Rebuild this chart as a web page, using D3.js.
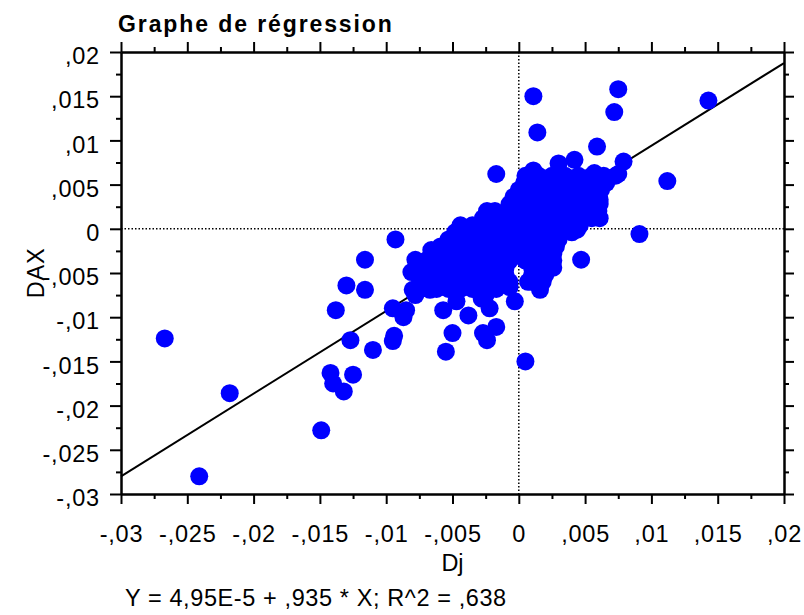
<!DOCTYPE html>
<html>
<head>
<meta charset="utf-8">
<script src="https://cdnjs.cloudflare.com/ajax/libs/d3/7.8.5/d3.min.js"></script>
<style>
  body { margin: 0; background: #fff; }
  svg { display: block; font-family: "Liberation Sans", Arial, sans-serif; }
  .axis text { font-size: 23.5px; letter-spacing: 0.8px; fill: #000; }
  .axis path, .axis line { stroke: #000; stroke-width: 2; }
</style>
</head>
<body>
<svg width="804" height="615"></svg>
<script>
// axis ticks
const majorTicks = [-0.03, -0.025, -0.02, -0.015, -0.01, -0.005, 0, 0.005, 0.01, 0.015, 0.02];
const minorTicks = [-0.0275, -0.0225, -0.0175, -0.0125, -0.0075, -0.0025, 0.0025, 0.0075, 0.0125, 0.0175];
const tickLabels = ['-,03', '-,025', '-,02', '-,015', '-,01', '-,005', '0', ',005', ',01', ',015', ',02'];

// regression Y = a + b * X
const intercept = 4.95e-5;
const slope = 0.935;

// Dj, DAX pairs: scattered points
const outlierPts = [
  [-0.0267, -0.0124], [-0.0218, -0.0186], [-0.0241, -0.0280], [-0.0149, -0.0228],
  [-0.0142, -0.0163], [-0.0140, -0.0175], [-0.0132, -0.0184], [-0.0125, -0.0165],
  [-0.0127, -0.0126], [-0.0110, -0.0137], [-0.0138, -0.0092], [-0.0130, -0.0064],
  [-0.0116, -0.0069], [-0.0116, -0.0035], [-0.0093, -0.0012], [-0.0095, -0.0090],
  [-0.0087, -0.0100], [-0.0085, -0.0092], [-0.0094, -0.0121], [-0.0095, -0.0127],
  [-0.0081, -0.0049], [-0.0078, -0.0035], [-0.0080, -0.0069], [-0.0078, -0.0075],
  [0.0047, -0.0035], [0.0005, -0.0150], [-0.0055, -0.0139], [-0.0050, -0.0118],
  [-0.0038, -0.0098], [-0.0057, -0.0092], [-0.0027, -0.0118], [-0.0024, -0.0126],
  [-0.0017, -0.0111], [-0.0003, -0.0082], [-0.0007, -0.0066], [-0.0022, -0.0090],
  [-0.0028, -0.0079], [-0.0025, -0.0075], [-0.0047, -0.0082], [-0.0067, -0.0069],
  [0.0016, -0.0069], [0.0007, -0.0060], [0.0026, -0.0044], [0.0091, -0.0006],
  [-0.0017, 0.0062], [0.0112, 0.0054], [0.0079, 0.0076], [0.0042, 0.0078],
  [0.0059, 0.0093], [0.0075, 0.0062], [-0.0024, 0.0020], [-0.0066, -0.0024],
  [0.0011, 0.0150], [0.0075, 0.0158], [0.0072, 0.0132], [0.0014, 0.0109],
  [0.0143, 0.0145], [0.0061, 0.0033], [0.0061, 0.0012], [0.0044, -0.0001],
  [0.0057, 0.0063], [0.0030, 0.0074], [0.0011, 0.0066]
];

// Dj, DAX pairs: the dense cloud round the origin
const clusterPts = [
  [0.0005, 0.0060], [0.0015, 0.0060], [0.0025, 0.0060], [0.0035, 0.0060], [0.0045, 0.0060], [0.0055, 0.0060], [0.0064, 0.0060], [0.0073, 0.0060],
  [0.0004, 0.0052], [0.0013, 0.0052], [0.0022, 0.0052], [0.0031, 0.0052], [0.0040, 0.0052], [0.0049, 0.0052], [0.0058, 0.0052], [0.0066, 0.0052],
  [0.0000, 0.0044], [0.0009, 0.0044], [0.0018, 0.0044], [0.0027, 0.0044], [0.0036, 0.0044], [0.0045, 0.0044], [0.0054, 0.0044], [0.0062, 0.0044],
  [-0.0004, 0.0036], [0.0005, 0.0036], [0.0014, 0.0036], [0.0023, 0.0036], [0.0032, 0.0036], [0.0041, 0.0036], [0.0050, 0.0036], [0.0059, 0.0036],
  [-0.0007, 0.0028], [0.0002, 0.0028], [0.0011, 0.0028], [0.0020, 0.0028], [0.0029, 0.0028], [0.0038, 0.0028], [0.0047, 0.0028], [0.0056, 0.0028], [0.0061, 0.0028],
  [-0.0018, 0.0020], [-0.0009, 0.0020], [0.0000, 0.0020], [0.0009, 0.0020], [0.0018, 0.0020], [0.0027, 0.0020], [0.0036, 0.0020], [0.0045, 0.0020], [0.0054, 0.0020], [0.0060, 0.0020],
  [-0.0027, 0.0012], [-0.0018, 0.0012], [-0.0009, 0.0012], [0.0000, 0.0012], [0.0009, 0.0012], [0.0018, 0.0012], [0.0027, 0.0012], [0.0036, 0.0012], [0.0045, 0.0012], [0.0055, 0.0012],
  [-0.0044, 0.0004], [-0.0035, 0.0004], [-0.0026, 0.0004], [-0.0017, 0.0004], [-0.0008, 0.0004], [0.0001, 0.0004], [0.0010, 0.0004], [0.0019, 0.0004], [0.0028, 0.0004], [0.0037, 0.0004], [0.0046, 0.0004],
  [-0.0048, -0.0004], [-0.0039, -0.0004], [-0.0030, -0.0004], [-0.0021, -0.0004], [-0.0012, -0.0004], [-0.0003, -0.0004], [0.0006, -0.0004], [0.0015, -0.0004], [0.0024, -0.0004], [0.0032, -0.0004], [0.0040, -0.0004],
  [-0.0053, -0.0012], [-0.0044, -0.0012], [-0.0035, -0.0012], [-0.0026, -0.0012], [-0.0017, -0.0012], [-0.0008, -0.0012], [0.0001, -0.0012], [0.0010, -0.0012], [0.0019, -0.0012], [0.0030, -0.0012],
  [-0.0059, -0.0020], [-0.0050, -0.0020], [-0.0041, -0.0020], [-0.0032, -0.0020], [-0.0023, -0.0020], [-0.0014, -0.0020], [-0.0005, -0.0020], [0.0004, -0.0020], [0.0013, -0.0020], [0.0021, -0.0020], [0.0028, -0.0020],
  [-0.0063, -0.0028], [-0.0054, -0.0028], [-0.0045, -0.0028], [-0.0036, -0.0028], [-0.0027, -0.0028], [-0.0018, -0.0028], [-0.0009, -0.0028], [0.0000, -0.0028], [0.0009, -0.0028], [0.0018, -0.0028], [0.0026, -0.0028],
  [-0.0070, -0.0036], [-0.0061, -0.0036], [-0.0052, -0.0036], [-0.0043, -0.0036], [-0.0034, -0.0036], [-0.0025, -0.0036], [-0.0016, -0.0036], [-0.0007, -0.0036], [0.0005, -0.0036], [0.0016, -0.0036], [0.0026, -0.0036],
  [-0.0074, -0.0044], [-0.0065, -0.0044], [-0.0056, -0.0044], [-0.0047, -0.0044], [-0.0038, -0.0044], [-0.0029, -0.0044], [-0.0020, -0.0044], [-0.0010, -0.0044], [0.0010, -0.0044], [0.0022, -0.0044],
  [-0.0076, -0.0052], [-0.0067, -0.0052], [-0.0058, -0.0052], [-0.0049, -0.0052], [-0.0040, -0.0052], [-0.0031, -0.0052], [-0.0022, -0.0052], [-0.0010, -0.0052], [0.0010, -0.0052], [0.0020, -0.0052],
  [-0.0070, -0.0060], [-0.0061, -0.0060], [-0.0052, -0.0060], [-0.0043, -0.0060], [-0.0034, -0.0060], [-0.0025, -0.0060], [-0.0016, -0.0060], [-0.0007, -0.0060], [0.0010, -0.0060], [0.0018, -0.0060],
  [-0.0062, -0.0068], [-0.0053, -0.0068], [-0.0044, -0.0068], [-0.0035, -0.0068], [-0.0026, -0.0068], [-0.0017, -0.0068]
];

const svg = d3.select('svg');
const plotLeft = 121, plotRight = 784, plotTop = 52, plotBottom = 494;

const x = d3.scaleLinear().domain([-0.03, 0.02]).range([plotLeft, plotRight]);
const y = d3.scaleLinear().domain([-0.03, 0.02]).range([plotBottom, plotTop]);

const labelOf = d => tickLabels[majorTicks.indexOf(d)];

// zero reference lines
svg.append('line')
  .attr('x1', x(0)).attr('x2', x(0))
  .attr('y1', plotTop).attr('y2', plotBottom)
  .attr('stroke', '#000').attr('stroke-width', 1.5)
  .attr('stroke-dasharray', '1.5,2');
svg.append('line')
  .attr('x1', plotLeft).attr('x2', plotRight)
  .attr('y1', y(0)).attr('y2', y(0))
  .attr('stroke', '#000').attr('stroke-width', 1.5)
  .attr('stroke-dasharray', '1.5,2');

// regression line (sits under the dots)
svg.append('line')
  .attr('x1', x(-0.03)).attr('y1', y(intercept + slope * -0.03))
  .attr('x2', x(0.02)).attr('y2', y(intercept + slope * 0.02))
  .attr('stroke', '#000').attr('stroke-width', 2);

// points
svg.append('g')
  .selectAll('circle')
  .data(outlierPts.concat(clusterPts))
  .enter()
  .append('circle')
  .attr('cx', d => x(d[0]))
  .attr('cy', d => y(d[1]))
  .attr('r', 9)
  .attr('fill', '#0000ff');

// axes, ticks outside on all four sides
svg.append('g').attr('class', 'axis')
  .attr('transform', `translate(0,${plotBottom})`)
  .call(d3.axisBottom(x).tickValues(majorTicks).tickSize(10).tickSizeOuter(0)
    .tickPadding(21).tickFormat(labelOf));
svg.append('g').attr('class', 'axis')
  .attr('transform', `translate(0,${plotBottom})`)
  .call(d3.axisBottom(x).tickValues(minorTicks).tickSize(5).tickSizeOuter(0).tickFormat(''));

svg.append('g').attr('class', 'axis')
  .attr('transform', `translate(${plotLeft},0)`)
  .call(d3.axisLeft(y).tickValues(majorTicks).tickSize(11).tickSizeOuter(0)
    .tickPadding(10).tickFormat(labelOf))
  .selectAll('text').attr('dy', '0.5em');
svg.append('g').attr('class', 'axis')
  .attr('transform', `translate(${plotLeft},0)`)
  .call(d3.axisLeft(y).tickValues(minorTicks).tickSize(5).tickSizeOuter(0).tickFormat(''));

svg.append('g').attr('class', 'axis')
  .attr('transform', `translate(0,${plotTop})`)
  .call(d3.axisTop(x).tickValues(majorTicks).tickSize(10).tickSizeOuter(0).tickFormat(''));
svg.append('g').attr('class', 'axis')
  .attr('transform', `translate(0,${plotTop})`)
  .call(d3.axisTop(x).tickValues(minorTicks).tickSize(5).tickSizeOuter(0).tickFormat(''));

svg.append('g').attr('class', 'axis')
  .attr('transform', `translate(${plotRight},0)`)
  .call(d3.axisRight(y).tickValues(majorTicks).tickSize(10).tickSizeOuter(0).tickFormat(''));
svg.append('g').attr('class', 'axis')
  .attr('transform', `translate(${plotRight},0)`)
  .call(d3.axisRight(y).tickValues(minorTicks).tickSize(5).tickSizeOuter(0).tickFormat(''));

// title and axis names
svg.append('text')
  .text('Graphe de régression')
  .attr('x', 118).attr('y', 32)
  .style('font-size', '23px').style('font-weight', 'bold').style('letter-spacing', '1.9px');

svg.append('text')
  .text('Dj')
  .attr('x', (plotLeft + plotRight) / 2).attr('y', 571)
  .attr('text-anchor', 'middle')
  .style('font-size', '23.5px');

svg.append('text')
  .text('DAX')
  .attr('transform', `translate(44,${(plotTop + plotBottom) / 2}) rotate(-90)`)
  .attr('text-anchor', 'middle')
  .style('font-size', '23.5px').style('letter-spacing', '0.8px');

svg.append('text')
  .text('Y = 4,95E-5 + ,935 * X; R^2 = ,638')
  .attr('x', 125).attr('y', 606)
  .style('font-size', '23.5px').style('letter-spacing', '0.6px');
</script>
</body>
</html>
